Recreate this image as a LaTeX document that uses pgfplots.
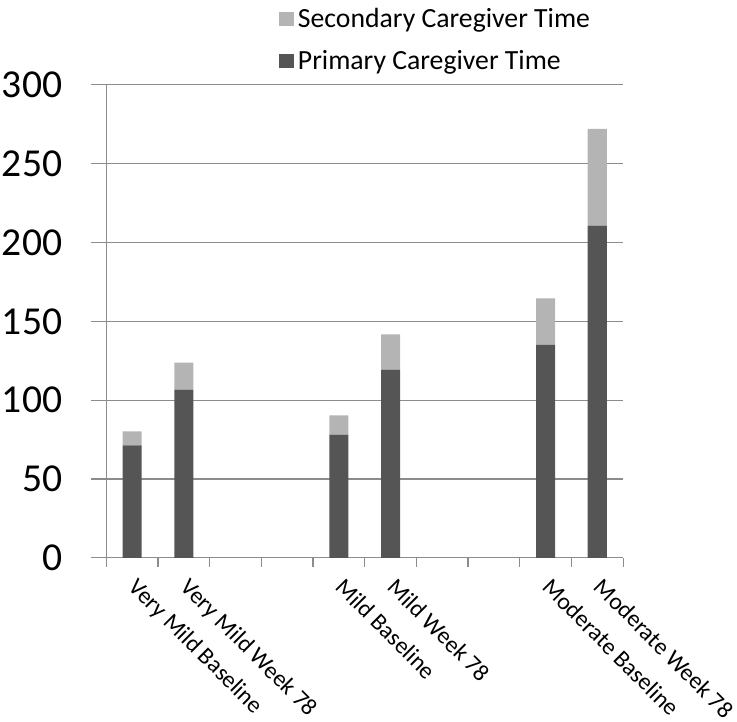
\documentclass[border=0pt]{standalone}
\usepackage{pgfplots}
\pgfplotsset{compat=1.18}
\usepackage{fontspec}
\setmainfont{Carlito}
\definecolor{primary}{HTML}{555555}
\definecolor{secondary}{HTML}{B4B4B4}
\definecolor{axisgray}{HTML}{8C8C8C}

\begin{document}
\begin{tikzpicture}
\begin{axis}[
    scale only axis,
    width=260bp, height=238bp,
    ybar stacked,
    bar width=0.37,
    xmin=-0.5, xmax=9.5,
    ymin=0, ymax=300,
    ytick={0,50,...,300},
    xtick={0,1,4,5,8,9},
    xticklabels={Very Mild Baseline, Very Mild Week 78, Mild Baseline, Mild Week 78, Moderate Baseline, Moderate Week 78},
    minor xtick={-0.5,0.5,...,9.5},
    major x tick style={draw=none},
    tick align=outside,
    major tick length=7.5bp,
    minor tick length=4.5bp,
    tick style={axisgray, line width=0.6bp},
    axis x line*=bottom,
    axis y line*=left,
    axis line style={axisgray, line width=0.6bp},
    ymajorgrids,
    grid style={axisgray, line width=0.6bp},
    /pgf/number format/assume math mode=true,
    yticklabel style={font=\fontsize{20}{24}\selectfont, inner sep=1bp, xshift=-13.5bp},
    xticklabel style={font=\fontsize{12}{14}\selectfont, inner sep=0.5bp, xshift=3.7bp, yshift=-1.2bp, rotate=-45, anchor=north west},
    legend style={draw=none, at={(0.322,1.18)}, anchor=north west,
        font=\fontsize{14}{17}\selectfont, row sep=6bp},
    legend cell align=left,
    reverse legend,
    legend image code/.code={\fill[#1] (0bp,-3.7bp) rectangle (7.5bp,3.7bp);},
]
\addplot[fill=primary, draw=none] coordinates {
    (0,71.3) (1,106.6) (4,78.1) (5,119.3) (8,135) (9,210.6)
};
\addplot[fill=secondary, draw=none] coordinates {
    (0,8.9) (1,17.2) (4,12.3) (5,22.4) (8,29.5) (9,61.4)
};
\legend{Primary Caregiver Time, Secondary Caregiver Time}
\end{axis}
\end{tikzpicture}
\end{document}
